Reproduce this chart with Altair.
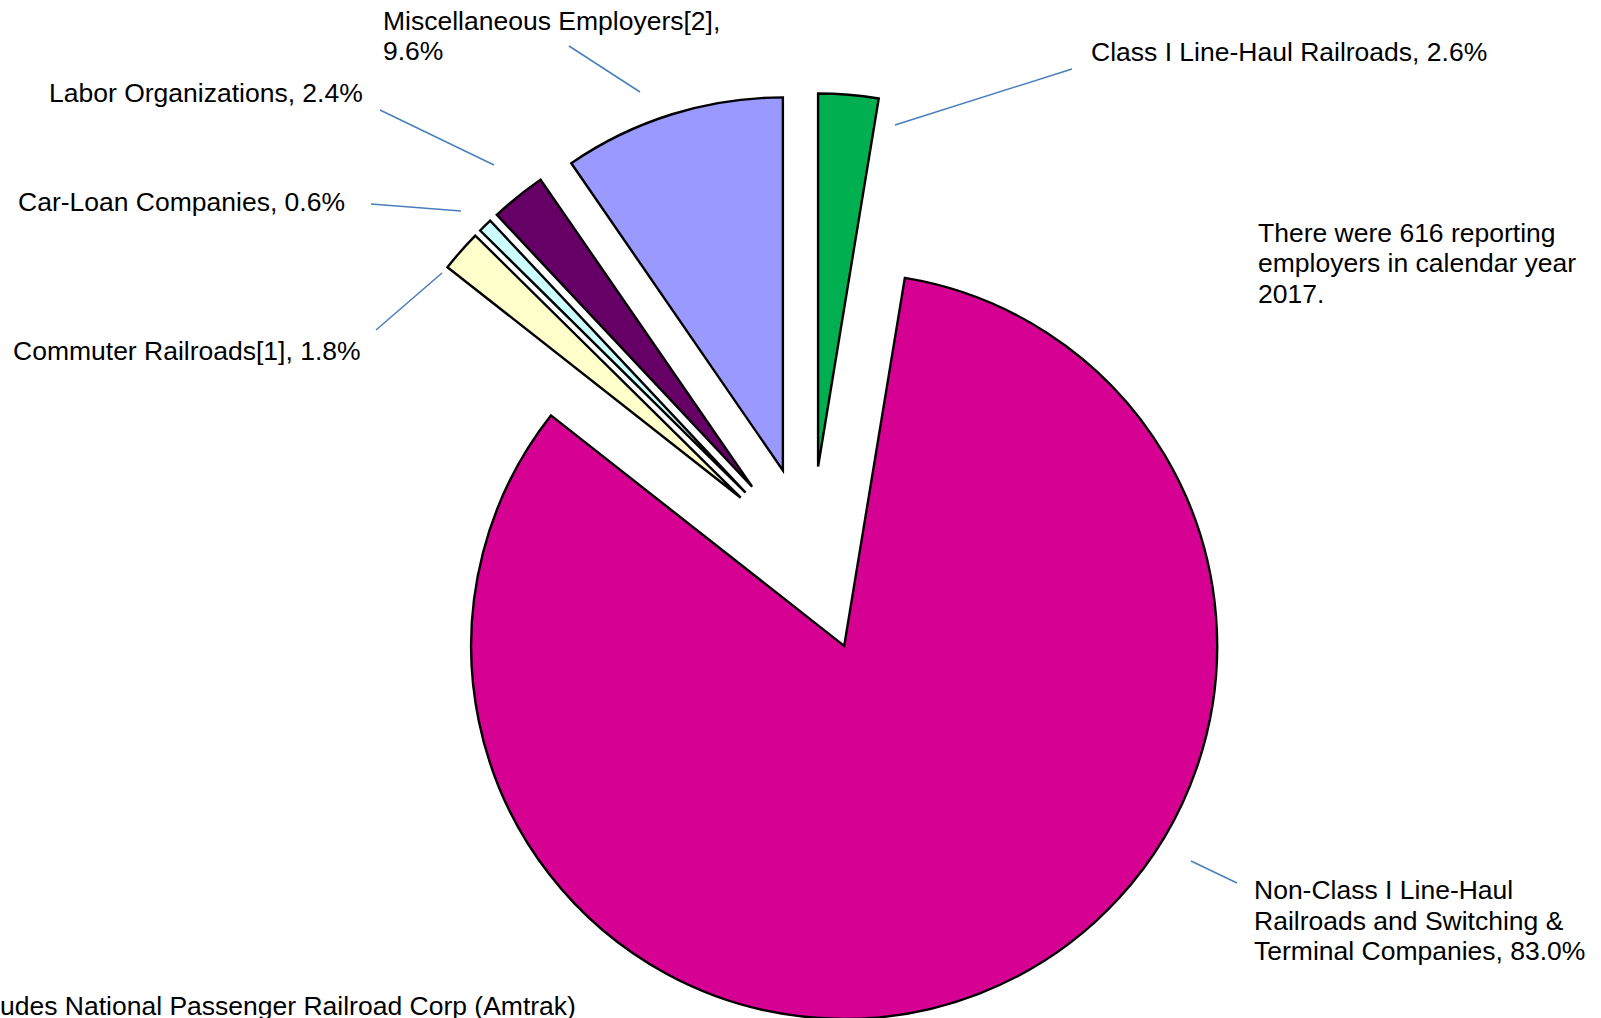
import math
import altair as alt
import pandas as pd

# ---------------- data ----------------
categories = [
    "Class I Line-Haul Railroads",
    "Non-Class I Line-Haul\nRailroads and Switching &\nTerminal Companies",
    "Commuter Railroads[1]",
    "Car-Loan Companies",
    "Labor Organizations",
    "Miscellaneous Employers[2]",
]
shares = [2.6, 83.0, 1.8, 0.6, 2.4, 9.6]
label_separators = [", ", ", ", ", ", ", ", ", ", ",\n"]
note_text = "There were 616 reporting\nemployers in calendar year\n2017."
footnote_text = "udes National Passenger Railroad Corp (Amtrak)"

# ---------------- styles / layout ----------------
colors = ["#00B050", "#D60093", "#FFFFCC", "#CCFFFF", "#660066", "#9999FF"]
W, H = 1601, 1018
CX, CY = 810.5, 559.2  # pie centre (before explosion)
R = 373                # pie radius
EXPLODE = 93           # explosion distance of every slice
FONT = "Liberation Sans"
FS = 26.5
LH = 30.6
LEADER = "#4A7EBB"

# label anchor (left x, vertical centre of first text line)
label_xy = [(1091, 53), (1254, 891), (13, 352), (18, 203), (49, 94), (383, 21.5)]
# leader lines (x1, y1, x2, y2)
leader_xy = [
    (895, 125, 1072, 69),
    (1191, 861, 1237, 883),
    (376, 330, 442, 273),
    (371, 204, 461, 211),
    (380, 110, 494, 165),
    (569, 46, 640, 92),
]

# ---------------- tables ----------------
pie_df = pd.DataFrame({
    "order": list(range(len(categories))),
    "category": categories,
    "share": shares,
})

labels_df = pd.DataFrame({
    "text": [c + s + f"{v:.1f}%" for c, s, v in zip(categories, label_separators, shares)],
    "x": [p[0] for p in label_xy],
    "y": [p[1] for p in label_xy],
})

leader_df = pd.DataFrame({
    "x": [p[0] for p in leader_xy],
    "y": [p[1] for p in leader_xy],
    "x2": [p[2] for p in leader_xy],
    "y2": [p[3] for p in leader_xy],
})

notes_df = pd.DataFrame({
    "text": [note_text, footnote_text],
    "x": [1258, 0],
    "y": [233.5, 1007],
})

# ---------------- chart ----------------
arcs = (
    alt.Chart(pie_df)
    .transform_window(cum="sum(share)", sort=[alt.SortField("order")], frame=[None, 0])
    .transform_calculate(
        start="datum.cum - datum.share",
        mid="(datum.cum - datum.share / 2) / 100 * 2 * PI",
    )
    .transform_calculate(
        px=f"{CX} + {EXPLODE} * sin(datum.mid)",
        py=f"{CY} - {EXPLODE} * cos(datum.mid)",
    )
    .mark_arc(radius=R, stroke="black", strokeWidth=2.4, strokeJoin="miter")
    .encode(
        theta=alt.Theta("start:Q", scale=alt.Scale(domain=[0, 100], range=[0, 2 * math.pi])),
        theta2="cum:Q",
        x=alt.X("px:Q", scale=None, axis=None),
        y=alt.Y("py:Q", scale=None, axis=None),
        color=alt.Color("category:N", scale=alt.Scale(domain=categories, range=colors), legend=None),
    )
)

leaders = (
    alt.Chart(leader_df)
    .mark_rule(color=LEADER, strokeWidth=1.5)
    .encode(
        x=alt.X("x:Q", scale=None, axis=None),
        y=alt.Y("y:Q", scale=None, axis=None),
        x2="x2:Q",
        y2="y2:Q",
    )
)

labels = (
    alt.Chart(labels_df)
    .mark_text(align="left", baseline="middle", font=FONT, fontSize=FS, lineBreak="\n", lineHeight=LH, color="black")
    .encode(
        x=alt.X("x:Q", scale=None, axis=None),
        y=alt.Y("y:Q", scale=None, axis=None),
        text="text:N",
    )
)

notes = (
    alt.Chart(notes_df)
    .mark_text(align="left", baseline="middle", font=FONT, fontSize=FS, lineBreak="\n", lineHeight=LH, color="black")
    .encode(
        x=alt.X("x:Q", scale=None, axis=None),
        y=alt.Y("y:Q", scale=None, axis=None),
        text="text:N",
    )
)

chart = (
    alt.layer(arcs, leaders, labels, notes)
    .properties(width=W, height=H, padding=0, autosize="none", background="white")
    .configure_view(stroke=None)
)

chart.save("out.html", embed_options={"renderer": "svg", "actions": False})
